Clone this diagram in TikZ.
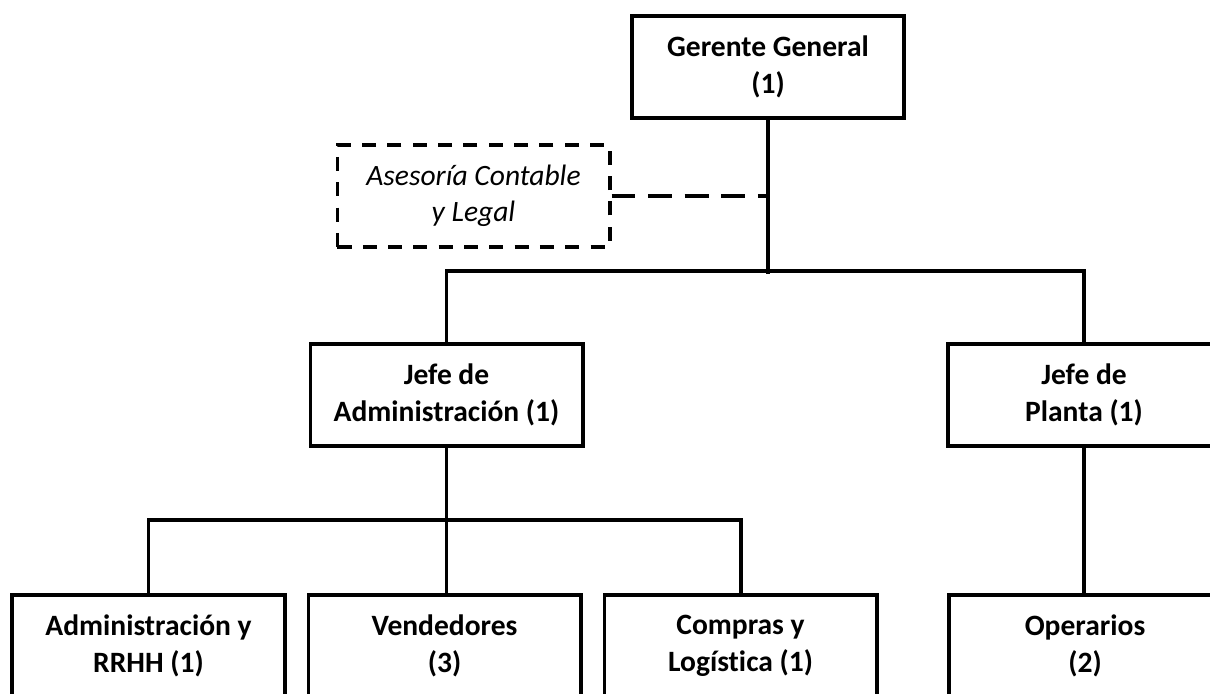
\documentclass[tikz,border=0pt]{standalone}
\usepackage{fontspec}
\setmainfont{Carlito}[Ligatures={NoCommon}]
\usetikzlibrary{positioning}

\begin{document}
\begin{tikzpicture}[
    x=0.025cm, y=-0.025cm,
    node distance=0.5cm,
    box/.style={draw,line width=2.8pt,minimum width=6.8cm,minimum height=2.55cm,align=center,inner sep=0pt,font=\fontsize{21}{26}\selectfont\bfseries},
    dashbox/.style={box,dash pattern=on 10pt off 8pt,font=\fontsize{21}{26}\selectfont\itshape},
    link/.style={line width=2.8pt},
    dashlink/.style={link,dash pattern=on 17pt off 9pt}
  ]
    \useasboundingbox (0,0) rectangle (1210,694);
    \node[box] (ger) at (768,67) {Gerente General\\(1)};
    \node[dashbox] (ase) at (473.5,196) {Asesoría Contable\\y Legal};
    \node[box] (jad) at (446.5,395) {Jefe de\\Administración (1)};
    \node[box] (jpl) at (1084,395) {Jefe de\\Planta (1)};
    \node[box] (adm) at (148.5,646) {Administración y\\RRHH (1)};
    \node[box] (ven) [right=of adm] {Vendedores\\(3)};
    \node[box] (com) [right=of ven] {Compras y\\Logística (1)};
    \node[box] (ope) at (1085,646) {Operarios\\(2)};
    \draw[link] (ger.south) -- ++(0,154);
    \draw[link] (jad.north) -- ++(0,-71) -| (jpl.north);
    \draw[dashlink] (ase.east) -- (ase.east -| ger.south);
    \draw[link] (jad.south) -- (jad.south |- ven.north);
    \draw[link] (adm.north) -- ++(0,-73) -| (com.north);
    \draw[link] (jpl.south) -- (jpl.south |- ope.north);
  \end{tikzpicture}
\end{document}
